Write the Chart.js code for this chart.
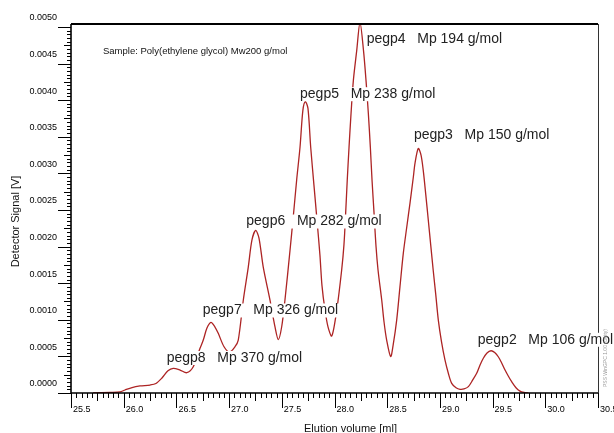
<!DOCTYPE html>
<html>
<head>
<meta charset="utf-8">
<script src="https://cdn.jsdelivr.net/npm/chart.js@4.4.1/dist/chart.umd.min.js"></script>
<style>
  html, body { margin: 0; padding: 0; background: #fff; }
  #wrap { width: 614px; height: 433px; }
</style>
</head>
<body>
<div id="wrap"><canvas id="gpcChart"></canvas></div>
<script>
// elution volume [ml] and detector signal [V]
const elutionVolume = [
  25.709, 25.87, 25.965, 26.012, 26.079, 26.155, 26.25, 26.306, 26.363, 26.42,
  26.47, 26.535, 26.598, 26.66, 26.724, 26.755, 26.79, 26.828, 26.866, 26.897,
  26.952, 27.004, 27.056, 27.087, 27.135, 27.182, 27.217, 27.252, 27.283, 27.324,
  27.388, 27.435, 27.467, 27.499, 27.53, 27.578, 27.609, 27.641, 27.673, 27.70,
  27.723, 27.748, 27.774, 27.805, 27.834, 27.862, 27.881, 27.91, 27.939, 27.974,
  28.021, 28.068, 28.09, 28.106, 28.121, 28.138, 28.157, 28.179, 28.211, 28.242,
  28.275, 28.299, 28.321, 28.34, 28.356, 28.375, 28.394, 28.413, 28.448, 28.47,
  28.495, 28.533, 28.557, 28.59, 28.621, 28.653, 28.685, 28.716, 28.748, 28.764,
  28.795, 28.821, 28.842, 28.866, 28.89, 28.913, 28.937, 28.961, 28.985, 29.015,
  29.048, 29.08, 29.112, 29.153, 29.191, 29.229, 29.27, 29.31, 29.349, 29.38,
  29.412, 29.447, 29.485, 29.52, 29.554, 29.585, 29.618, 29.65, 29.681, 29.722,
  29.76, 29.798, 29.839
];
const detectorSignal = [
  0, 0.000007, 0.000014, 0.000041, 0.000075, 0.000096, 0.000109, 0.00013, 0.000205, 0.000304,
  0.000337, 0.000314, 0.000277, 0.000359, 0.00061, 0.000723, 0.000887, 0.000965, 0.000901, 0.000815,
  0.000632, 0.00056, 0.000632, 0.000723, 0.00127, 0.00172, 0.00209, 0.00222, 0.00212, 0.00172,
  0.00127, 0.000907, 0.00073, 0.000905, 0.00127, 0.00195, 0.00241, 0.00291, 0.00336, 0.00386,
  0.00398, 0.00389, 0.00336, 0.00284, 0.00236, 0.00188, 0.00147, 0.00113, 0.0009, 0.000778,
  0.00113, 0.00168, 0.00203, 0.00246, 0.00291, 0.00336, 0.00382, 0.00427, 0.00468, 0.00506,
  0.00468, 0.00427, 0.00382, 0.00336, 0.00291, 0.00246, 0.002, 0.00168, 0.00127, 0.00097,
  0.000723, 0.000498, 0.00066, 0.000996, 0.00145, 0.00191, 0.00226, 0.00259, 0.00295, 0.00314,
  0.00334, 0.00325, 0.00304, 0.00271, 0.00236, 0.00202, 0.00167, 0.00134, 0.000996, 0.000701,
  0.000451, 0.00027, 0.000132, 0.000072, 0.00005, 0.000055, 0.000087, 0.000175, 0.000269, 0.00038,
  0.000474, 0.000546, 0.000577, 0.000553, 0.000495, 0.000414, 0.000314, 0.000229, 0.000154, 0.000072,
  0.000025, 0.000007, 0
];

const peakNames = ['pegp8', 'pegp7', 'pegp6', 'pegp5', 'pegp4', 'pegp3', 'pegp2'];
const peakMp = [370, 326, 282, 238, 194, 150, 106];

const xTickLabels = ['25.5', '26.0', '26.5', '27.0', '27.5', '28.0', '28.5', '29.0', '29.5', '30.0', '30.5'];
const yTickLabels = ['0.0000', '0.0005', '0.0010', '0.0015', '0.0020', '0.0025',
                     '0.0030', '0.0035', '0.0040', '0.0045', '0.0050'];

// where each peak annotation starts (left edge, middle), in data units
const labelAt = {
  pegp8: [26.408, 0.000478],
  pegp7: [26.75, 0.001127],
  pegp6: [27.163, 0.002342],
  pegp5: [27.673, 0.004081],
  pegp4: [28.305, 0.004836],
  pegp3: [28.754, 0.003525],
  pegp2: [29.359, 0.000727]
};

const points = elutionVolume.map((v, i) => ({ x: v, y: detectorSignal[i] }));

const decor = {
  id: 'decor',
  afterDatasetsDraw(chart) {
    const ctx = chart.ctx;
    const a = chart.chartArea;
    const sx = chart.scales.x;
    const sy = chart.scales.y;
    ctx.save();

    // tick marks
    ctx.strokeStyle = '#000';
    ctx.lineWidth = 1;
    ctx.beginPath();
    for (let k = 0; k <= 100; k++) {
      const px = Math.round(sx.getPixelForValue(25.5 + k * 0.05)) + 0.5;
      const len = k % 10 === 0 ? 15 : (k % 5 === 0 ? 8 : 5);
      ctx.moveTo(px, a.bottom);
      ctx.lineTo(px, a.bottom + len);
    }
    for (let k = 0; k <= 100; k++) {
      const py = Math.round(sy.getPixelForValue(k * 0.00005)) + 0.5;
      const len = k % 10 === 0 ? 13 : (k % 5 === 0 ? 7 : 4);
      ctx.moveTo(a.left, py);
      ctx.lineTo(a.left - len, py);
    }
    ctx.stroke();

    // axes and frame
    ctx.lineWidth = 1.6;
    ctx.beginPath();
    ctx.moveTo(a.left, a.top);
    ctx.lineTo(a.left, a.bottom);
    ctx.lineTo(a.right, a.bottom);
    ctx.stroke();
    ctx.lineWidth = 2;
    ctx.beginPath();
    ctx.moveTo(a.left, a.top);
    ctx.lineTo(a.right, a.top);
    ctx.stroke();
    ctx.lineWidth = 1;
    ctx.strokeStyle = '#333';
    ctx.beginPath();
    ctx.moveTo(a.right + 0.5, a.top);
    ctx.lineTo(a.right + 0.5, a.bottom);
    ctx.stroke();

    // peak annotations on white ground
    ctx.font = '14px "Liberation Sans", Arial, sans-serif';
    ctx.textBaseline = 'middle';
    ctx.textAlign = 'left';
    peakNames.forEach((name, i) => {
      const txt = name + '   Mp ' + peakMp[i] + ' g/mol';
      const px = sx.getPixelForValue(labelAt[name][0]);
      const py = sy.getPixelForValue(labelAt[name][1]);
      const w = ctx.measureText(txt).width;
      ctx.fillStyle = '#fff';
      ctx.fillRect(px - 1, py - 7, w + 2, 14);
      ctx.fillStyle = '#222';
      ctx.fillText(txt, px, py);
    });

    // sample line
    ctx.font = '9.5px "Liberation Sans", Arial, sans-serif';
    ctx.fillStyle = '#111';
    ctx.fillText('Sample: Poly(ethylene glycol) Mw200 g/mol', a.left + 32, a.top + 27);

    // axis titles
    ctx.font = '11px "Liberation Sans", Arial, sans-serif';
    ctx.textAlign = 'center';
    ctx.textBaseline = 'alphabetic';
    ctx.fillText('Elution volume [ml]', (a.left + a.right) / 2 + 16, a.bottom + 39);
    ctx.save();
    ctx.translate(a.left - 55, (a.top + a.bottom) / 2 + 13);
    ctx.rotate(-Math.PI / 2);
    ctx.textBaseline = 'middle';
    ctx.fillText('Detector Signal [V]', 0, 0);
    ctx.restore();

    // software stamp
    ctx.save();
    ctx.translate(a.right + 8, a.bottom - 35);
    ctx.rotate(-Math.PI / 2);
    ctx.font = '5px "Liberation Sans", Arial, sans-serif';
    ctx.fillStyle = '#999';
    ctx.textBaseline = 'middle';
    ctx.fillText('PSS WinGPC 1.00 (Unity)', 0, 0);
    ctx.restore();

    ctx.restore();
  }
};

new Chart(document.getElementById('gpcChart'), {
  type: 'line',
  data: {
    datasets: [{
      data: points,
      borderColor: '#ad2424',
      borderWidth: 1.3,
      pointRadius: 0,
      fill: false,
      tension: 0.3
    }]
  },
  options: {
    responsive: true,
    maintainAspectRatio: false,
    animation: false,
    events: [],
    layout: { padding: { top: 24, right: 16, left: 0, bottom: 0 } },
    plugins: { legend: { display: false }, tooltip: { enabled: false } },
    scales: {
      x: {
        type: 'linear',
        min: 25.5,
        max: 30.5,
        grid: { display: false, drawTicks: false },
        border: { display: false },
        afterBuildTicks: s => { s.ticks = xTickLabels.map(t => ({ value: parseFloat(t) })); },
        afterFit: s => { s.height = 40; s.paddingLeft = 0; s.paddingRight = 0; },
        ticks: {
          autoSkip: false,
          maxRotation: 0,
          align: 'start',
          labelOffset: 2,
          padding: 11,
          color: '#000',
          font: { family: '"Liberation Sans", Arial, sans-serif', size: 9 },
          callback: (v, i) => xTickLabels[i]
        }
      },
      y: {
        type: 'linear',
        min: 0,
        max: 0.00504,
        grid: { display: false, drawTicks: false },
        border: { display: false },
        afterBuildTicks: s => { s.ticks = yTickLabels.map(t => ({ value: parseFloat(t) })); },
        afterFit: s => { s.width = 71; s.paddingTop = 0; s.paddingBottom = 0; },
        ticks: {
          autoSkip: false,
          labelOffset: -9,
          padding: 14,
          color: '#000',
          font: { family: '"Liberation Sans", Arial, sans-serif', size: 9 },
          callback: (v, i) => yTickLabels[i]
        }
      }
    }
  },
  plugins: [decor]
});
</script>
</body>
</html>
